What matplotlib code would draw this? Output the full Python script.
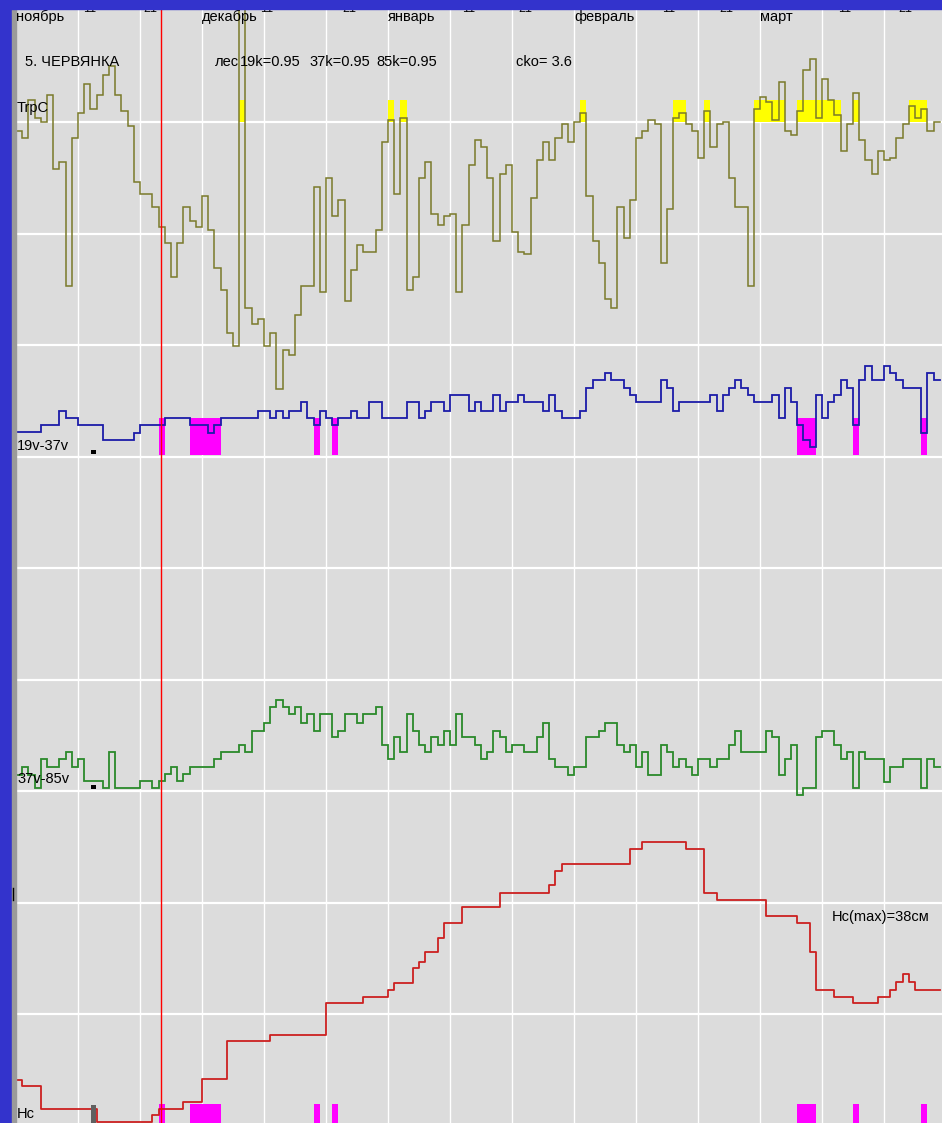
import numpy as np
import matplotlib
matplotlib.use('Agg')
import matplotlib.pyplot as plt
from matplotlib.patches import Rectangle

plt.rcParams['font.family'] = ['Liberation Sans', 'DejaVu Sans']

# ---- data (one value per day, 1 Nov .. 29 Mar) ----
months = ['ноябрь', 'декабрь', 'январь', 'февраль', 'март']
month_start = [0, 30, 60, 90, 120]
dekad_pos = [10.8, 20.5, 39.4, 52.7, 71.9, 81.0, 104.2, 113.5, 132.6, 142.3]
dekad_text = ['11', '21', '11', '21', '11', '21', '11', '21', '11', '21']

# ground temperature, C
trp_c = [-0.4, -0.7, 1.0, 0.2, 0.0, 1.2, -2.1, -1.8, -7.3, -0.7,
         0.4, 1.7, 0.6, 1.2, 2.1, 2.5, 1.2, 0.5, -0.2, -2.7,
         -3.2, -3.2, -3.8, -4.7, -5.4, -6.9, -5.4, -3.8, -4.4, -4.7,
         -3.3, -4.8, -6.5, -7.5, -9.4, -10.0, 6.0, -8.3, -9.0, -8.8,
         -10.0, -9.4, -11.9, -10.2, -10.4, -8.6, -7.3, -7.3, -2.9, -7.6,
         -2.5, -4.2, -3.5, -8.0, -6.6, -5.5, -5.8, -5.8, -4.8, -0.9,
         0.1, -3.2, 0.2, -7.5, -6.9, -2.5, -1.8, -4.1, -4.6, -4.2,
         -4.1, -7.6, -4.6, -1.9, -0.8, -1.1, -2.5, -5.3, -2.3, -1.9,
         -4.9, -5.8, -5.9, -3.4, -1.7, -0.9, -1.7, -0.7, -0.1, -0.9,
         0.0, 0.4, -3.3, -5.3, -6.3, -7.9, -8.3, -3.8, -5.2, -3.5,
         -0.7, -0.4, 0.1, -0.1, -6.3, -3.9, 0.2, 0.4, -0.1, -0.4,
         -1.6, 0.5, -1.1, -0.1, 0.0, -2.5, -3.8, -3.8, -7.3, 0.6,
         1.1, 0.9, 0.1, 1.8, -0.4, -0.6, 0.5, 2.3, 2.8, 0.2,
         1.9, 1.0, 0.3, -1.3, -0.1, 1.3, -0.8, -1.7, -2.3, -1.3,
         -1.7, -1.6, -0.7, -0.1, 0.7, 0.2, 0.6, -0.4, 0.0]
trp_start = -5.4

# brightness temperature differences, K
tb19_37 = [2.2, 2.2, 2.2, 2.2, 2.9, 2.9, 2.9, 4.1, 3.5, 3.5,
           2.9, 2.9, 2.9, 2.9, 1.5, 1.5, 1.5, 1.5, 1.5, 2.1,
           2.9, 2.9, 2.9, 2.9, 3.5, 3.5, 3.5, 3.5, 2.9, 2.9,
           2.9, 2.1, 2.9, 3.5, 3.5, 3.5, 3.5, 3.5, 3.5, 4.1,
           4.1, 3.5, 4.1, 3.5, 4.1, 4.1, 4.9, 3.5, 2.9, 4.1,
           3.5, 2.9, 3.5, 3.5, 4.1, 3.5, 3.5, 4.9, 4.9, 3.5,
           3.5, 3.5, 3.5, 4.9, 4.9, 3.5, 4.1, 4.9, 4.9, 4.1,
           5.5, 5.5, 5.5, 4.1, 4.9, 4.1, 4.1, 5.5, 4.1, 4.9,
           4.9, 5.5, 4.9, 4.9, 4.9, 4.1, 5.5, 4.1, 3.5, 3.5,
           3.5, 4.1, 6.2, 6.9, 6.9, 7.5, 6.9, 6.9, 6.2, 5.5,
           4.9, 4.9, 4.9, 4.9, 6.9, 6.2, 4.1, 4.9, 4.9, 4.9,
           4.9, 4.9, 5.5, 4.1, 5.5, 6.2, 6.9, 6.2, 5.5, 4.9,
           4.9, 4.9, 5.5, 3.5, 6.2, 4.9, 2.9, 1.5, 0.9, 5.5,
           3.5, 4.9, 5.5, 6.9, 6.2, 2.9, 6.9, 8.1, 6.9, 6.9,
           8.1, 7.5, 6.9, 6.2, 6.2, 6.2, 2.1, 7.5, 6.9]
tb19_start = 0.2

tb37_85 = [1.4, 2.1, 1.4, 0.3, 2.9, 2.1, 2.1, 2.9, 3.5, 2.1,
           2.9, 0.9, 0.9, 0.9, 0.3, 3.5, 0.3, 0.3, 0.3, 0.3,
           0.9, 0.9, 0.3, 0.9, 1.5, 2.1, 0.9, 1.5, 2.1, 2.1,
           2.1, 2.1, 2.9, 3.5, 3.5, 3.5, 4.1, 3.5, 5.4, 5.4,
           6.1, 7.5, 8.1, 7.5, 6.9, 7.5, 6.1, 6.9, 5.4, 6.9,
           6.9, 4.8, 5.4, 6.9, 6.9, 6.1, 6.9, 6.9, 7.5, 4.1,
           2.9, 4.8, 3.5, 6.9, 5.4, 4.1, 3.5, 4.8, 4.1, 5.4,
           4.1, 6.9, 4.8, 4.8, 4.1, 2.9, 3.5, 5.4, 4.8, 3.5,
           4.1, 4.1, 3.5, 3.5, 4.8, 6.1, 2.9, 2.1, 2.1, 1.4,
           2.1, 2.1, 4.8, 4.8, 5.4, 6.1, 6.1, 4.1, 3.5, 4.1,
           2.1, 3.5, 1.4, 1.4, 4.1, 3.5, 2.1, 2.9, 2.1, 1.4,
           2.9, 2.9, 2.1, 2.9, 2.9, 4.1, 5.4, 3.5, 3.5, 3.5,
           3.5, 5.4, 4.8, 1.4, 2.9, 4.1, -0.4, 0.3, 0.3, 4.8,
           5.4, 5.4, 4.1, 2.9, 3.5, 0.3, 3.5, 2.9, 2.9, 2.9,
           0.8, 2.1, 2.1, 2.9, 2.9, 2.9, 0.3, 2.9, 2.1]
tb37_start = 0.3

# snow depth, cm (value holds from edge i to edge i+1)
hc_edges = [0, 1, 4, 13, 22, 23, 27, 30, 34, 41, 50, 56, 60, 61, 64, 65, 66,
            68, 69, 72, 78, 86, 87, 88, 99, 101, 108, 111, 113, 121, 126,
            128, 129, 132, 135, 139, 141, 142, 143, 144, 145, 149]
hc_cm = [6.2, 5.4, 2.3, 0.5, 1.5, 2.3, 3.2, 6.3, 11.4, 12.2,
         16.5, 17.3, 18.2, 19.1, 21.2, 22.0, 23.3, 25.2, 27.2, 29.3,
         31.2, 32.3, 34.1, 35.1, 37.1, 38.0, 37.1, 31.2, 30.3, 28.1,
         27.2, 23.3, 18.2, 17.3, 16.5, 17.3, 18.2, 19.3, 20.3, 19.3, 18.2]
hc_start = 0.4

thaw_days = [36, 60, 62, 91, 106, 107, 111, 119, 120, 121, 122, 123,
             126, 127, 128, 129, 130, 131, 132, 135, 144, 145, 146]
wet_days = [23, 28, 29, 30, 31, 32, 48, 51, 126, 127, 128, 135, 146]
gap_day = 12
today = 23.4

# ---- layout (pixels) ----
W, H = 942, 1123
X0, TOP = 16, 9
DAY_PX = 6.2
ROW0, ROW_PX = 122, 111.5
RECT = [X0 / W, 0, (W - X0) / W, (H - TOP) / H]
XMAX = (W - X0) / DAY_PX
BG = '#dcdcdc'
FS = 10.5

fig = plt.figure(figsize=(W / 100, H / 100), dpi=100, facecolor='#3333cc')

bg = fig.add_axes(RECT, zorder=0)
bg.set_facecolor(BG)
bg.set_xlim(0, XMAX)
bg.set_ylim((H - ROW0) / ROW_PX, (TOP - ROW0) / ROW_PX)
for d in range(10, 150, 10):
    bg.axvline(d, color='white', lw=1.0)
for r in range(9):
    bg.axhline(r, color='white', lw=1.6)
bg.set_xticks([]); bg.set_yticks([])
for s in bg.spines.values():
    s.set_visible(False)


def layer(zero_px, px_per_unit, z):
    a = fig.add_axes(RECT, zorder=z)
    a.set_xlim(0, XMAX)
    a.set_ylim((zero_px - H) / px_per_unit, (zero_px - TOP) / px_per_unit)
    a.patch.set_visible(False)
    a.axis('off')
    return a


def daily(a, vals, start, color, lw):
    d = np.arange(len(vals) + 1)
    a.plot(np.r_[0, d], np.r_[start, vals, vals[-1]], drawstyle='steps-post',
           color=color, lw=lw, zorder=3, solid_joinstyle='miter')


# ground temperature
ax1 = layer(122, 22.4, 1)
ax1.bar(thaw_days, 1.0, bottom=0, width=1, align='edge', color='#ffff00', lw=0, zorder=1)
daily(ax1, trp_c, trp_start, '#7a7a2a', 1.1)

# 19v-37v
ax2 = layer(457, 11.2, 2)
ax2.bar(wet_days, 3.3, bottom=0.2, width=1, align='edge', color='#ff00ff', lw=0, zorder=1)
ax2.bar(gap_day + 0.05, 0.35, bottom=0.25, width=0.9, align='edge', color='black', lw=0, zorder=4)
daily(ax2, tb19_37, tb19_start, '#1c1ca8', 1.3)

# 37v-85v
ax3 = layer(791, 11.2, 3)
ax3.bar(gap_day + 0.05, 0.35, bottom=0.2, width=0.9, align='edge', color='black', lw=0, zorder=4)
daily(ax3, tb37_85, tb37_start, '#2a8a2a', 1.3)

# snow depth
ax4 = layer(1126, 7.47, 4)
ax4.bar(wet_days, 3.9, bottom=-1, width=1, align='edge', color='#ff00ff', lw=0, zorder=1)
ax4.bar(gap_day + 0.05, 3.8, bottom=-1, width=0.9, align='edge', color='#606060', lw=0, zorder=4)
ax4.plot(np.r_[0, hc_edges], np.r_[hc_start, hc_cm, hc_cm[-1]], drawstyle='steps-post',
         color='#cc2020', lw=1.3, zorder=3)
ax4.axvline(today, color='#ff0000', lw=1.0, zorder=5)

# frame pieces
fig.patches.append(Rectangle((12 / W, 0), 4 / W, 1, transform=fig.transFigure,
                             color='#9a9a9a', zorder=5))
fig.patches.append(Rectangle((0, 1 - TOP / H), 1, TOP / H, transform=fig.transFigure,
                             color='#3333cc', zorder=10))
fig.add_artist(plt.Line2D([12.5 / W] * 2, [1 - 888 / H, 1 - 900 / H], color='black', lw=1, zorder=6))


def ptext(x, y, s, size=FS, **kw):
    fig.text(x / W, 1 - y / H, s, fontsize=size, va='baseline', ha='left', zorder=6, **kw)


for m, d in zip(months, month_start):
    ptext(X0 + d * DAY_PX, 21, m)
for t, d in zip(dekad_text, dekad_pos):
    ptext(X0 + d * DAY_PX, 12, t, size=9)

ptext(25, 66, '5. ЧЕРВЯНКА')
ptext(215, 66, 'лес')
ptext(240, 66, '19k=0.95')
ptext(309, 66, '37k=0.95')
ptext(376, 66, '85k=0.95')
ptext(516, 66, 'cko= 3.6')
ptext(17, 112, 'TrpC')
ptext(17, 450, '19v-37v')
ptext(17, 783, '37v-85v')
ptext(17, 1118, 'Hc')
ptext(832, 921, 'Hc(max)=38см')

fig.savefig('out.png', dpi=100, facecolor=fig.get_facecolor())
